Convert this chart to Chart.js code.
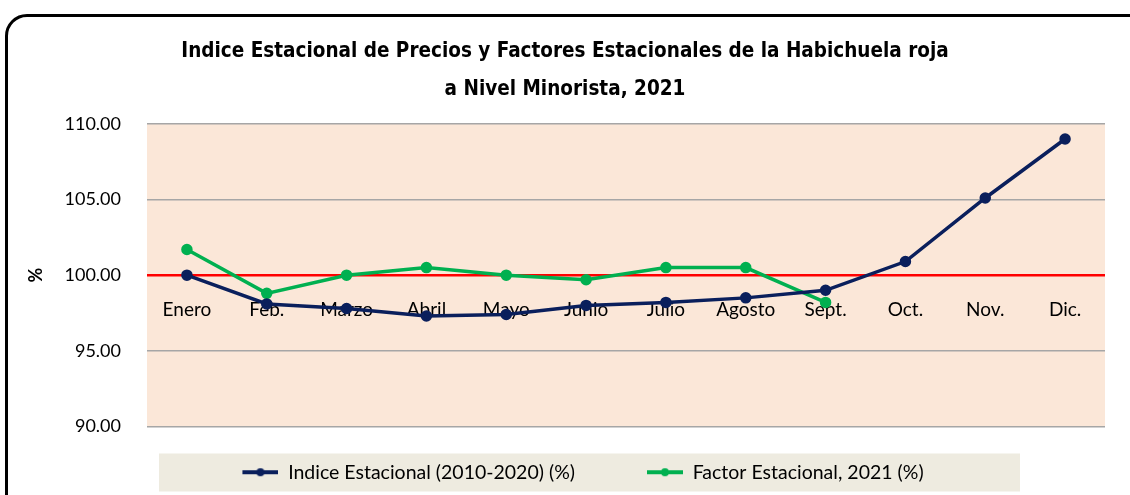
<!DOCTYPE html>
<html>
<head>
<meta charset="utf-8">
<script src="https://cdn.jsdelivr.net/npm/chart.js@4"></script>
<style>
  html, body { margin: 0; padding: 0; background: #fff; overflow: hidden; }
  #wrap { position: relative; width: 1130px; height: 495px; }
  #frame {
    position: absolute; left: 5px; top: 14px; width: 1200px; height: 560px;
    border: 3px solid #000; border-radius: 22px; box-sizing: border-box;
  }
  canvas { position: absolute; left: 0; top: 0; }
</style>
</head>
<body>
<div id="wrap">
  <div id="frame"></div>
  <canvas id="chart" width="1130" height="495"></canvas>
</div>
<script>
const months = ["Enero", "Feb.", "Marzo", "Abril", "Mayo", "Junio", "Julio", "Agosto", "Sept.", "Oct.", "Nov.", "Dic."];
const indiceEstacional = [100.0, 98.1, 97.8, 97.3, 97.4, 98.0, 98.2, 98.5, 99.0, 100.9, 105.1, 109.0];
const factorEstacional = [101.7, 98.8, 100.0, 100.5, 100.0, 99.7, 100.5, 100.5, 98.2, null, null, null];
const yTicks = [90, 95, 100, 105, 110];
const baseLine = 100;

const bodyFont = "Lato, 'Open Sans', sans-serif";
const titleFont = "'DejaVu Sans Condensed', 'DejaVu Sans', sans-serif";

// legend marker: a line with a dot, pushed to the right so items sit further apart
function marker(color) {
    const c = document.createElement("canvas");
    c.width = 72;
    c.height = 12;
    const g = c.getContext("2d");
    g.strokeStyle = color;
    g.lineWidth = 4;
    g.beginPath();
    g.moveTo(36, 6);
    g.lineTo(72, 6);
    g.stroke();
    g.fillStyle = color;
    g.beginPath();
    g.arc(54, 6, 4, 0, Math.PI * 2);
    g.fill();
    return c;
}

const backdrop = {
    id: "backdrop",
    beforeDraw(chart) {
        const { ctx, chartArea } = chart;
        ctx.save();
        ctx.fillStyle = "#FBE7D8";
        ctx.fillRect(chartArea.left, chartArea.top, chartArea.right - chartArea.left, chartArea.bottom - chartArea.top);
        const lg = chart.legend;
        ctx.fillStyle = "#EEEBE0";
        ctx.fillRect(chartArea.left + 12, lg.top + 27, chartArea.right - chartArea.left - 97, 38);
        ctx.restore();
    },
    beforeDatasetsDraw(chart) {
        const { ctx, chartArea, scales } = chart;
        const y = scales.y.getPixelForValue(baseLine);
        ctx.save();
        ctx.strokeStyle = "#FF0000";
        ctx.lineWidth = 2.5;
        ctx.beginPath();
        ctx.moveTo(chartArea.left, y);
        ctx.lineTo(chartArea.right, y);
        ctx.stroke();
        ctx.restore();
    }
};

new Chart(document.getElementById("chart"), {
    type: "line",
    data: {
        labels: months,
        datasets: [
            {
                label: "Indice Estacional (2010-2020) (%)",
                data: indiceEstacional,
                borderColor: "#0A1F5C",
                backgroundColor: "#0A1F5C",
                borderWidth: 3.5,
                pointRadius: 4,
                pointHoverRadius: 4,
                tension: 0
            },
            {
                label: "Factor Estacional, 2021 (%)",
                data: factorEstacional,
                borderColor: "#00B050",
                backgroundColor: "#00B050",
                borderWidth: 3.5,
                pointRadius: 4,
                pointHoverRadius: 4,
                tension: 0
            }
        ]
    },
    options: {
        responsive: false,
        animation: false,
        layout: { padding: { left: 25, right: 25, top: 33, bottom: 3 } },
        plugins: {
            title: {
                display: true,
                text: ["Indice Estacional de Precios y Factores Estacionales de la Habichuela roja", "a Nivel Minorista, 2021"],
                color: "#000",
                font: { family: titleFont, size: 20.5, weight: "bold", lineHeight: 1.85 },
                padding: { top: 0, bottom: 15 }
            },
            legend: {
                position: "bottom",
                labels: {
                    color: "#000",
                    font: { family: bodyFont, size: 19.5 },
                    usePointStyle: true,
                    pointStyleWidth: 72,
                    padding: 36,
                    generateLabels(chart) {
                        const items = Chart.defaults.plugins.legend.labels.generateLabels(chart);
                        items.forEach((it, i) => {
                            it.pointStyle = marker(chart.data.datasets[i].borderColor);
                        });
                        return items;
                    }
                }
            },
            tooltip: { enabled: false }
        },
        scales: {
            x: {
                position: { y: baseLine },
                offset: true,
                grid: { display: false },
                border: { display: false },
                ticks: {
                    color: "#000",
                    font: { family: bodyFont, size: 19 },
                    padding: 15,
                    maxRotation: 0
                }
            },
            y: {
                min: 90,
                max: 110,
                afterBuildTicks(scale) {
                    scale.ticks = yTicks.map(v => ({ value: v }));
                },
                afterFit(scale) {
                    scale.width = 122;
                },
                grid: { color: "#A6A6A6", lineWidth: 1.5, drawTicks: false },
                border: { display: false },
                ticks: {
                    color: "#000",
                    font: { family: bodyFont, size: 18 },
                    padding: 26,
                    callback: v => Number(v).toFixed(2)
                },
                title: {
                    display: true,
                    text: "%",
                    color: "#000",
                    font: { family: bodyFont, size: 18, weight: "bold" },
                    padding: 0
                }
            }
        }
    },
    plugins: [backdrop]
});
</script>
</body>
</html>
